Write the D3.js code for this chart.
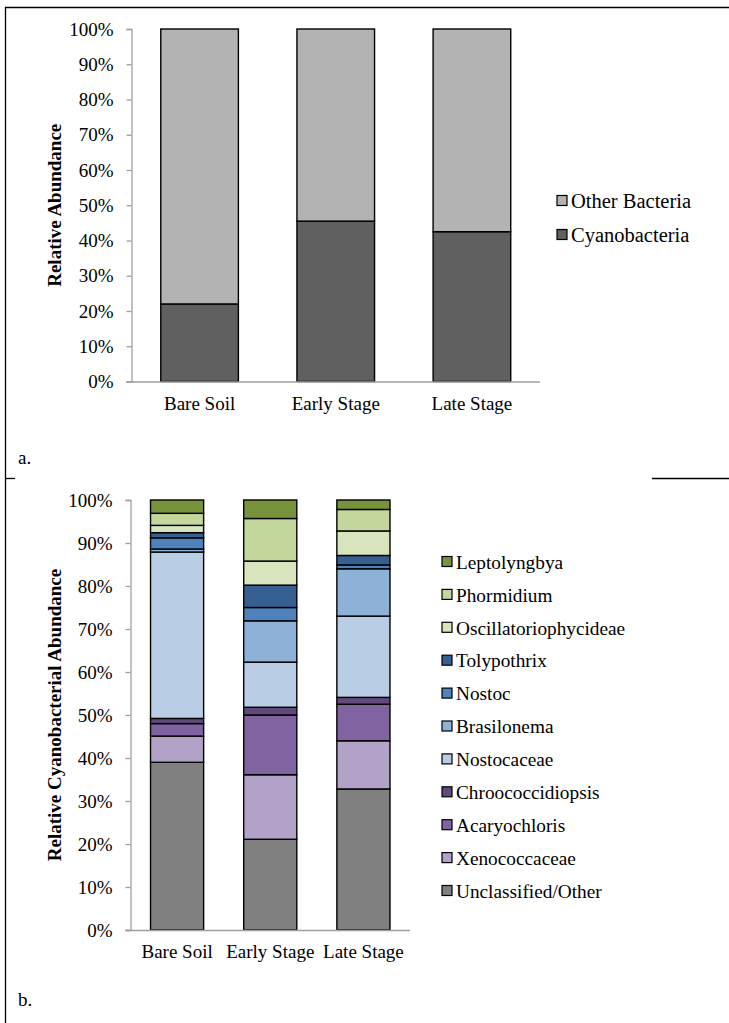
<!DOCTYPE html>
<html>
<head>
<meta charset="utf-8">
<script src="https://cdn.jsdelivr.net/npm/d3@7"></script>
<style>
  html, body { margin: 0; padding: 0; background: #fff; }
  svg { display: block; }
  text { font-family: "Liberation Serif", "Times New Roman", serif; fill: #000; }
</style>
</head>
<body>
<svg id="fig" width="729" height="1023"></svg>
<script>
// ---- data ----
const stages = ["Bare Soil", "Early Stage", "Late Stage"];

// panel a: share of all bacteria (%)
const cyanobacteria = [22.0, 45.5, 42.5];
const otherBacteria = [78.0, 54.5, 57.5];
const groupsA = ["Cyanobacteria", "Other Bacteria"];
const colorsA = ["#606060", "#b3b3b3"];

// panel b: share of cyanobacteria (%), listed bottom to top of the stack
const taxa = ["Unclassified/Other", "Xenococcaceae", "Acaryochloris", "Chroococcidiopsis",
  "Nostocaceae", "Brasilonema", "Nostoc", "Tolypothrix", "Oscillatoriophycideae",
  "Phormidium", "Leptolyngbya"];
const bareSoil   = [39.0, 6.1, 2.9, 1.2, 38.7, 0.7, 2.6, 1.2, 1.7, 2.8, 3.1];
const earlyStage = [21.1, 15.0, 13.9, 1.8, 10.5, 9.6, 3.1, 5.2, 5.6, 9.9, 4.3];
const lateStage  = [32.8, 11.2, 8.5, 1.6, 18.9, 11.0, 0.9, 2.2, 5.7, 5.0, 2.2];
const colorsB = ["#808080", "#b3a2c7", "#8064a2", "#604a7b", "#b9cde5", "#8eb1d8",
  "#4f81bd", "#376092", "#d7e4bd", "#c3d69b", "#77933c"];

const yTicks = [0, 10, 20, 30, 40, 50, 60, 70, 80, 90, 100];

// ---- drawing ----
const svg = d3.select("#fig");
const FONT = 19;
const SERIF = "Liberation Serif, Times New Roman, serif";

// frame lines
const frame = svg.append("g").attr("stroke", "#000").attr("stroke-width", 1.3);
frame.append("line").attr("x1", 5).attr("x2", 729).attr("y1", 7.5).attr("y2", 7.5);
frame.append("line").attr("x1", 5.5).attr("x2", 5.5).attr("y1", 7).attr("y2", 1023);
frame.append("line").attr("x1", 5).attr("x2", 15).attr("y1", 478.5).attr("y2", 478.5);
frame.append("line").attr("x1", 652).attr("x2", 729).attr("y1", 478.5).attr("y2", 478.5);

function panel(opts) {
  const { x0, x1, yTop, yBot, rows, keys, colors, title, legendX, legendY, legendStep, legendFont } = opts;
  const g = svg.append("g");

  const x = d3.scaleBand().domain(stages).range([x0, x1]).paddingInner(0.43).paddingOuter(0.215);
  const y = d3.scaleLinear().domain([0, 100]).range([yBot, yTop]);

  const stack = d3.stack().keys(keys.map((k, i) => i)).value((d, i) => d[i]);
  const series = stack(rows);

  // bars
  series.forEach((s, si) => {
    g.selectAll(null).data(s).join("rect")
      .attr("x", (d, i) => x(stages[i]))
      .attr("width", x.bandwidth())
      .attr("y", d => y(d[1]))
      .attr("height", d => y(d[0]) - y(d[1]))
      .attr("fill", colors[si])
      .attr("stroke", "#000")
      .attr("stroke-width", 1.4);
  });

  // y axis
  const ya = g.append("g").attr("transform", `translate(${x0},0)`)
    .call(d3.axisLeft(y).tickValues(yTicks).tickFormat(d => d + "%").tickSize(5).tickPadding(13));
  ya.attr("font-family", SERIF);
  ya.select(".domain").attr("stroke", "#a0a0a0").attr("stroke-width", 1.3);
  ya.selectAll(".tick line").attr("stroke", "#a0a0a0").attr("stroke-width", 1.3);
  ya.selectAll(".tick text").attr("font-size", FONT).attr("fill", "#000");

  // x axis
  const xa = g.append("g").attr("transform", `translate(0,${yBot})`)
    .call(d3.axisBottom(x).tickSize(0).tickPadding(15));
  xa.attr("font-family", SERIF);
  xa.select(".domain").attr("stroke", "#a0a0a0").attr("stroke-width", 1.3)
    .attr("d", `M${x0 - 5},0.5H${x1}`);
  xa.selectAll(".tick text").attr("font-size", FONT).attr("fill", "#000");

  // y title
  g.append("text")
    .attr("transform", `translate(61,${(yTop + yBot) / 2}) rotate(-90)`)
    .attr("text-anchor", "middle")
    .attr("font-size", FONT).attr("font-weight", "bold")
    .text(title);

  // legend, top entry = top of stack
  const lg = g.append("g");
  keys.slice().reverse().forEach((k, j) => {
    const ci = keys.length - 1 - j;
    const cy = legendY + j * legendStep;
    lg.append("rect").attr("x", legendX).attr("y", cy - 5.5).attr("width", 10).attr("height", 10)
      .attr("fill", colors[ci]).attr("stroke", "#000").attr("stroke-width", 1.2);
    lg.append("text").attr("x", legendX + 14).attr("y", cy).attr("dy", "0.35em")
      .attr("font-size", legendFont).text(k);
  });
}

panel({
  x0: 131.5, x1: 540, yTop: 29, yBot: 381.5,
  rows: stages.map((s, i) => [cyanobacteria[i], otherBacteria[i]]),
  keys: groupsA, colors: colorsA, title: "Relative Abundance",
  legendX: 557, legendY: 201, legendStep: 34, legendFont: 20.5
});

panel({
  x0: 130.5, x1: 410, yTop: 500, yBot: 930,
  rows: [bareSoil, earlyStage, lateStage],
  keys: taxa, colors: colorsB, title: "Relative Cyanobacterial Abundance",
  legendX: 442, legendY: 562, legendStep: 32.9, legendFont: 19.3
});

// panel letters
svg.append("text").attr("x", 18).attr("y", 464).attr("font-size", FONT).text("a.");
svg.append("text").attr("x", 18).attr("y", 1006).attr("font-size", FONT).text("b.");
</script>
</body>
</html>
